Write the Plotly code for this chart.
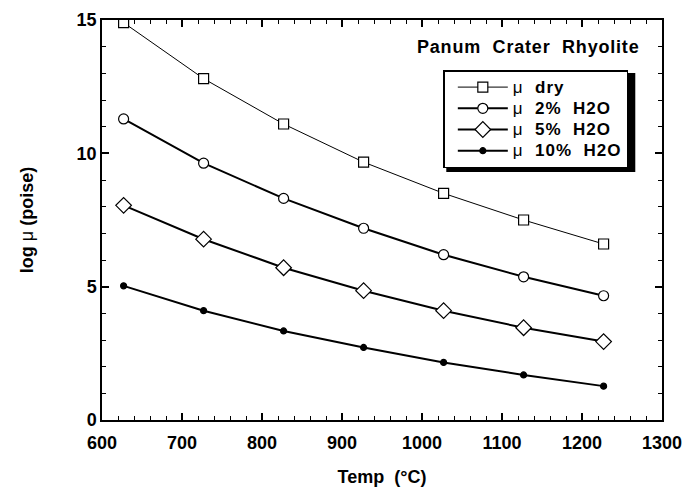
import plotly.graph_objects as go

# Temperatures (°C) and log viscosity for each water content
temp_c = [627, 727, 827, 927, 1027, 1127, 1227]
log_mu_dry = [14.9, 12.8, 11.1, 9.67, 8.5, 7.5, 6.6]
log_mu_2 = [11.29, 9.63, 8.31, 7.19, 6.2, 5.37, 4.66]
log_mu_5 = [8.05, 6.78, 5.71, 4.85, 4.1, 3.46, 2.94]
log_mu_10 = [5.03, 4.1, 3.34, 2.72, 2.16, 1.69, 1.27]

series_names = ["dry", "2%  H2O", "5%  H2O", "10%  H2O"]
x_ticks = [600, 700, 800, 900, 1000, 1100, 1200, 1300]
y_ticks = [0, 5, 10, 15]

FONT = "Liberation Sans, Arial, sans-serif"
mu = '<span style="font-weight:normal">μ</span>'

styles = [
    dict(values=log_mu_dry, symbol="square", size=10, width=1.0, mcolor="white"),
    dict(values=log_mu_2, symbol="circle", size=10, width=2.0, mcolor="white"),
    dict(values=log_mu_5, symbol="diamond", size=12, width=2.0, mcolor="white"),
    dict(values=log_mu_10, symbol="circle", size=6, width=2.0, mcolor="black"),
]

fig = go.Figure()
for name, st in zip(series_names, styles):
    label = (f'<span style="font-size:17px;letter-spacing:1px">'
             f'{mu}\u00a0\u00a0<b>{name}</b></span>')
    fig.add_trace(go.Scatter(
        x=temp_c, y=st["values"], mode="lines+markers",
        name=label,
        line=dict(color="black", width=st["width"]),
        marker=dict(symbol=st["symbol"], size=st["size"], color=st["mcolor"],
                    line=dict(color="black", width=1.2)),
    ))

axis_common = dict(
    showline=True, linecolor="black", linewidth=1.5, mirror="ticks",
    ticks="inside", ticklen=7, tickwidth=1.5, tickcolor="black",
    showgrid=False, zeroline=False, automargin=False,
    tickfont=dict(family=FONT, size=18, color="black", weight="bold"),
)

fig.update_xaxes(
    range=[600, 1300], tickvals=x_ticks, ticklabelstandoff=6,
    minor=dict(dtick=20, ticks="inside", ticklen=4, tickwidth=1.2, tickcolor="black"),
    title=dict(text="<b>Temp  (°C)</b>", font=dict(family=FONT, size=18, color="black"), standoff=18),
    **axis_common,
)
fig.update_yaxes(
    range=[0, 15], tickvals=y_ticks,
    minor=dict(dtick=1, ticks="inside", ticklen=4, tickwidth=1.2, tickcolor="black"),
    title=dict(text="<b>log " + mu + " (poise)</b>", font=dict(family=FONT, size=18, color="black"), standoff=38),
    **axis_common,
)

# Drop shadow behind the legend box (offset down and to the right)
fig.add_shape(type="rect", xref="paper", yref="paper",
              x0=0.6148, x1=0.9523, y0=0.62, y1=0.8675,
              fillcolor="black", line=dict(width=0), layer="below")

fig.add_annotation(
    text='<span style="letter-spacing:0.8px"><b>Panum\u00a0\u00a0Crater\u00a0\u00a0Rhyolite</b></span>',
    xref="paper", yref="paper",
    x=0.962, y=0.932, xanchor="right", yanchor="middle", showarrow=False,
    font=dict(family=FONT, size=18, color="black"),
)

fig.update_layout(
    width=686, height=492,
    margin=dict(l=102, r=24, t=20, b=72, autoexpand=False),
    paper_bgcolor="white", plot_bgcolor="white",
    font=dict(family=FONT, size=18, color="black"),
    legend=dict(
        x=0.6095, y=0.875, xanchor="left", yanchor="top",
        bgcolor="white", bordercolor="black", borderwidth=1.5,
        font=dict(family=FONT, size=14, color="black"),
        tracegroupgap=0, itemwidth=50, indentation=8,
    ),
    showlegend=True,
)

fig.write_html("out.html")
